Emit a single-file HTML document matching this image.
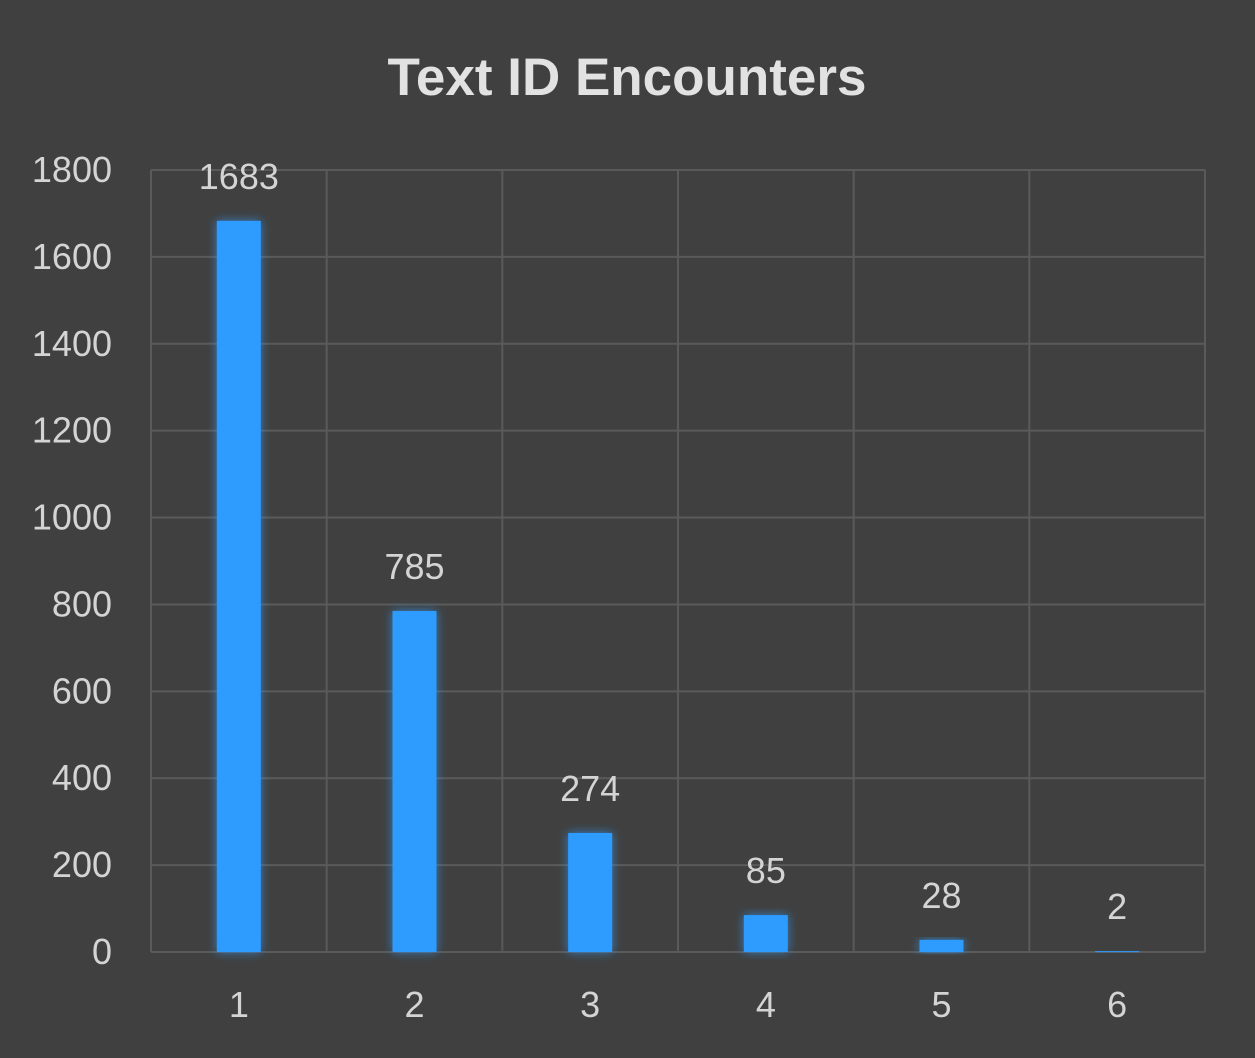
<!DOCTYPE html>
<html><head><meta charset="utf-8"><style>
html,body{margin:0;padding:0;background:#404040;}
svg{display:block;}
</style></head><body>
<svg id="chart" width="1255" height="1058" xmlns="http://www.w3.org/2000/svg">
<defs>
<filter id="glow" x="-50%" y="-20%" width="200%" height="140%">
<feGaussianBlur in="SourceAlpha" stdDeviation="5" result="b"/>
<feFlood flood-color="#2e9bff" flood-opacity="0.7"/>
<feComposite in2="b" operator="in" result="g"/>
<feMerge><feMergeNode in="g"/><feMergeNode in="SourceGraphic"/></feMerge>
</filter>
</defs>
<rect width="1255" height="1058" fill="#404040"/>
<text x="627" y="95" text-anchor="middle" font-family="'Liberation Sans',sans-serif" font-weight="bold" font-size="53" fill="#e2e2e2">Text ID Encounters</text>
<g id="grid"></g><g id="bars"></g><g id="labels"></g>
</svg>
<script>
const categories = ["1","2","3","4","5","6"];
const values = [1683,785,274,85,28,2];
const yTicks = [0,200,400,600,800,1000,1200,1400,1600,1800];
const x0=151,x1=1205,yTop=170,yBot=952,yMax=1800;
const NS="http://www.w3.org/2000/svg";
const bw=(x1-x0)/categories.length;
const xC=i=>x0+bw*(i+0.5);
const yS=v=>yBot-(v/yMax)*(yBot-yTop);
function mk(tag,attrs,parent){const e=document.createElementNS(NS,tag);for(const k in attrs)e.setAttribute(k,attrs[k]);parent.appendChild(e);return e;}
const grid=document.getElementById('grid'),bars=document.getElementById('bars'),labels=document.getElementById('labels');
const font="'Liberation Sans',sans-serif";
yTicks.forEach(t=>{
  const y=yS(t);
  const l=mk('line',{x1:x0,x2:x1,y1:y,y2:y,stroke:'#5a5a5a','stroke-width':2},grid);
  
  
  const tx=mk('text',{x:112,y:y+12,'text-anchor':'end','font-family':font,'font-size':36,fill:'#d4d4d4'},labels);
  tx.textContent=t;
  
  
});
for(let i=0;i<=categories.length;i++){
  const x=x0+bw*i;
  const l=mk('line',{x1:x,x2:x,y1:yTop,y2:yBot,stroke:'#5a5a5a','stroke-width':2},grid);
  
  
}
categories.forEach((c,i)=>{
  const v=values[i],cx=xC(i),w=44,y=yS(v);
  const r=mk('rect',{x:cx-w/2,y:y,width:w,height:Math.max(yBot-y,1),fill:'#2e9bff',filter:'url(#glow)'},bars);
  
  
  const vl=mk('text',{x:cx,y:y-32,'text-anchor':'middle','font-family':font,'font-size':36,fill:'#d4d4d4'},labels);
  vl.textContent=v;
  
  
  const xl=mk('text',{x:cx,y:1017,'text-anchor':'middle','font-family':font,'font-size':36,fill:'#d4d4d4'},labels);
  xl.textContent=c;
  
  
});
</script>
</body></html>
